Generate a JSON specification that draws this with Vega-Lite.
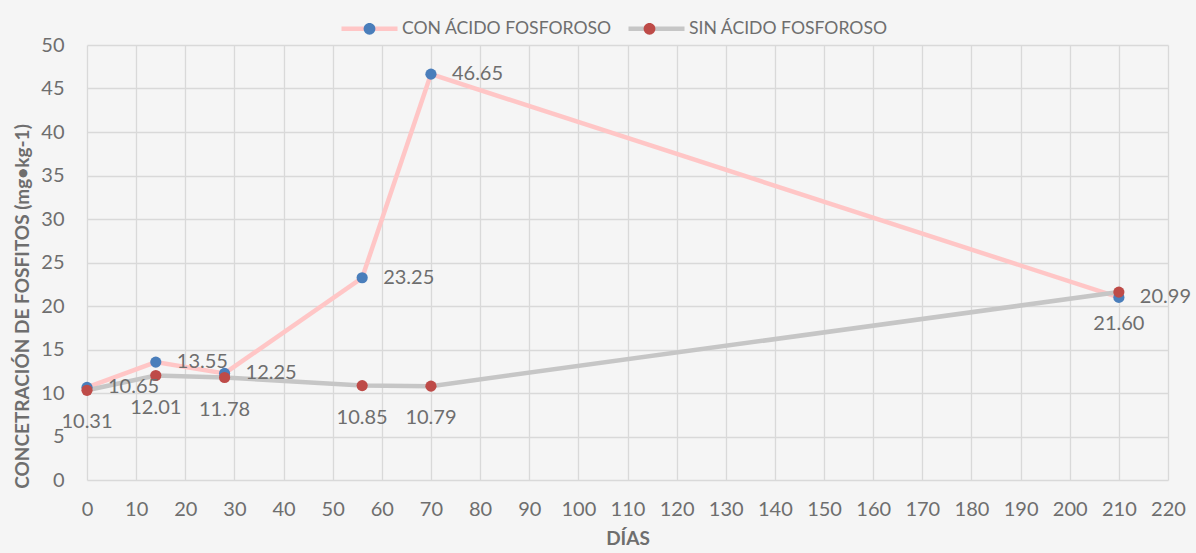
{
  "$schema": "https://vega.github.io/schema/vega-lite/v6.json",
  "width": 1081,
  "height": 435,
  "autosize": {"type": "none"},
  "padding": {"left": 87, "top": 45, "right": 28, "bottom": 73},
  "background": "#f5f5f5",
  "config": {
    "font": "Lato",
    "view": {"stroke": null},
    "axis": {
      "grid": true,
      "gridColor": "#d9d9d9",
      "gridWidth": 1.3,
      "domain": false,
      "ticks": false,
      "labelFont": "Lato",
      "labelFontSize": 20,
      "labelColor": "#6e6e6e",
      "titleFont": "Lato",
      "titleFontSize": 19,
      "titleFontWeight": "bold",
      "titleColor": "#6e6e6e"
    }
  },
  "data": {
    "values": [
      {"dias": 0, "valor": 10.65, "serie": "CON ÁCIDO FOSFOROSO"},
      {"dias": 14, "valor": 13.55, "serie": "CON ÁCIDO FOSFOROSO"},
      {"dias": 28, "valor": 12.25, "serie": "CON ÁCIDO FOSFOROSO"},
      {"dias": 56, "valor": 23.25, "serie": "CON ÁCIDO FOSFOROSO"},
      {"dias": 70, "valor": 46.65, "serie": "CON ÁCIDO FOSFOROSO"},
      {"dias": 210, "valor": 20.99, "serie": "CON ÁCIDO FOSFOROSO"},
      {"dias": 0, "valor": 10.31, "serie": "SIN ÁCIDO FOSFOROSO"},
      {"dias": 14, "valor": 12.01, "serie": "SIN ÁCIDO FOSFOROSO"},
      {"dias": 28, "valor": 11.78, "serie": "SIN ÁCIDO FOSFOROSO"},
      {"dias": 56, "valor": 10.85, "serie": "SIN ÁCIDO FOSFOROSO"},
      {"dias": 70, "valor": 10.79, "serie": "SIN ÁCIDO FOSFOROSO"},
      {"dias": 210, "valor": 21.60, "serie": "SIN ÁCIDO FOSFOROSO"}
    ]
  },
  "encoding": {
    "x": {
      "field": "dias",
      "type": "quantitative",
      "scale": {"domain": [0, 220], "nice": false, "zero": true},
      "axis": {"title": "DÍAS", "values": [0,10,20,30,40,50,60,70,80,90,100,110,120,130,140,150,160,170,180,190,200,210,220], "labelPadding": 19, "titlePadding": 10, "labelFlush": false}
    },
    "y": {
      "field": "valor",
      "type": "quantitative",
      "scale": {"domain": [0, 50], "nice": false},
      "axis": {"title": "CONCETRACIÓN DE FOSFITOS (mg•kg-1)", "values": [0,5,10,15,20,25,30,35,40,45,50], "labelPadding": 23, "titlePadding": 8, "titleY": 261}
    }
  },
  "layer": [
    {
      "mark": {"type": "line", "strokeWidth": 4.5},
      "encoding": {
        "stroke": {
          "field": "serie",
          "type": "nominal",
          "scale": {"domain": ["CON ÁCIDO FOSFOROSO", "SIN ÁCIDO FOSFOROSO"], "range": ["#ffc6c6", "#c6c6c6"]},
          "legend": {
            "orient": "none",
            "legendX": 252,
            "legendY": -47,
            "direction": "horizontal",
            "title": null,
            "symbolType": "stroke",
            "symbolSize": 3136,
            "symbolStrokeWidth": 4.5,
            "labelFontSize": 17.6,
            "labelColor": "#6e6e6e",
            "labelOffset": 2,
            "labelLimit": 500,
            "columnPadding": 7
          }
        }
      }
    },
    {
      "mark": {"type": "point", "filled": true, "size": 125, "opacity": 1},
      "encoding": {
        "fill": {
          "field": "serie",
          "type": "nominal",
          "scale": {"range": ["#4a7ebb", "#be4b48"]},
          "legend": {
            "orient": "none",
            "legendX": 252,
            "legendY": -47,
            "direction": "horizontal",
            "title": null,
            "symbolType": "M -0.21,0 A 0.21,0.21 0 1,1 0.21,0 A 0.21,0.21 0 1,1 -0.21,0 Z",
            "symbolSize": 3136,
            "symbolStrokeWidth": 4.5,
            "symbolStrokeColor": "transparent",
            "labelFontSize": 17.6,
            "labelOpacity": 0,
            "labelOffset": 2,
            "labelLimit": 500,
            "columnPadding": 7
          }
        }
      }
    },
    {
      "transform": [{"filter": "datum.serie === 'CON ÁCIDO FOSFOROSO'"}],
      "mark": {"type": "text", "align": "left", "baseline": "middle", "dx": 21, "fontSize": 20, "color": "#6e6e6e"},
      "encoding": {"text": {"field": "valor", "type": "quantitative", "format": ".2f"}}
    },
    {
      "transform": [{"filter": "datum.serie === 'SIN ÁCIDO FOSFOROSO'"}],
      "mark": {"type": "text", "align": "center", "baseline": "middle", "dy": 32, "fontSize": 20, "color": "#6e6e6e"},
      "encoding": {"text": {"field": "valor", "type": "quantitative", "format": ".2f"}}
    }
  ]
}
